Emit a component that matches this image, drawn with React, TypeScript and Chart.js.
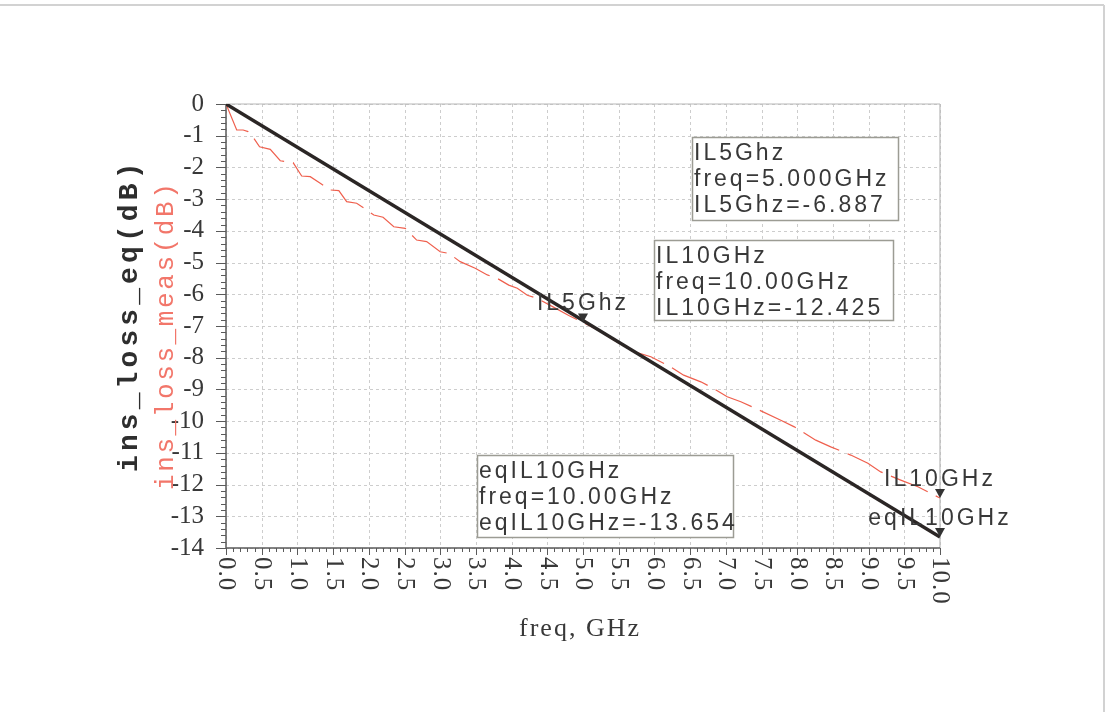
import React, { useEffect, useRef } from "react";
import { Chart, registerables } from "chart.js";

Chart.register(...registerables);

// Measured insertion loss (red, dashed) sampled along frequency
const measFreqGHz = [
  0, 0.15, 0.24, 0.31, 0.36, 0.47, 0.62, 0.76, 0.94, 1.06, 1.18, 1.32, 1.46, 1.58,
  1.69, 1.83, 1.97, 2.07, 2.2, 2.35, 2.51, 2.67, 2.81, 3.0, 3.12, 3.28, 3.49, 3.66,
  3.8, 3.96, 4.08, 4.22, 4.36, 4.6, 4.8, 5.0, 5.2, 5.43, 5.71, 5.95, 6.23, 6.41,
  6.65, 6.83, 7.02, 7.21, 7.44, 7.77, 7.96, 8.26, 8.47, 8.75, 8.99, 9.17, 9.45,
  9.69, 10.0,
];
const insLossMeas = [
  0, -0.82, -0.82, -0.87, -0.98, -1.35, -1.43, -1.79, -1.85, -2.27, -2.29, -2.5,
  -2.71, -2.73, -3.08, -3.13, -3.34, -3.5, -3.57, -3.87, -3.92, -4.29, -4.34, -4.66,
  -4.71, -4.97, -5.18, -5.39, -5.5, -5.71, -5.81, -6.03, -6.13, -6.42, -6.67, -6.887,
  -7.12, -7.44, -7.81, -7.97, -8.29, -8.55, -8.76, -8.97, -9.23, -9.39, -9.62, -9.97,
  -10.18, -10.6, -10.81, -11.07, -11.33, -11.6, -11.86, -12.07, -12.425,
];

// Equation-model insertion loss (black, solid)
const eqFreqGHz = [0, 10];
const insLossEq = [0, -13.654];

// Axis ticks
const xTickLabels = [
  "0.0", "0.5", "1.0", "1.5", "2.0", "2.5", "3.0", "3.5", "4.0", "4.5",
  "5.0", "5.5", "6.0", "6.5", "7.0", "7.5", "8.0", "8.5", "9.0", "9.5", "10.0",
];
const yMin = -14;
const yMax = 0;

// Markers
const markerNames = ["IL5Ghz", "IL10GHz", "eqIL10GHz"];
const markerFreq = [5, 10, 10];
const markerValue = [-6.887, -12.425, -13.654];

// Readout boxes: [marker index, left, top, width, height]
const readoutBoxes: number[][] = [
  [0, 692, 137, 206, 83],
  [1, 654, 240, 239, 80],
  [2, 477, 455, 256, 82],
];

const TEXT = "#383838";
const SANS = "'Liberation Sans', Arial, sans-serif";
const SERIF = "'Liberation Serif', 'Times New Roman', serif";
const MONO = "'Liberation Mono', 'Courier New', monospace";

function line(ctx: CanvasRenderingContext2D, x1: number, y1: number, x2: number, y2: number) {
  ctx.beginPath();
  ctx.moveTo(x1, y1);
  ctx.lineTo(x2, y2);
  ctx.stroke();
}

const decorPlugin = {
  id: "decor",
  beforeDatasetsDraw(chart: any) {
    const { ctx, chartArea: a, scales } = chart;
    const x = scales.x;
    const y = scales.y;
    ctx.save();
    // dashed grid
    ctx.strokeStyle = "#cdcdcd";
    ctx.lineWidth = 1;
    ctx.setLineDash([3, 3]);
    xTickLabels.forEach((l) => {
      const px = Math.round(x.getPixelForValue(parseFloat(l))) + 0.5;
      line(ctx, px, a.top, px, a.bottom);
    });
    for (let v = yMax; v >= yMin; v -= 1) {
      const py = Math.round(y.getPixelForValue(v)) + 0.5;
      line(ctx, a.left, py, a.right, py);
    }
    ctx.setLineDash([]);
    // frame top / right
    ctx.strokeStyle = "#b8b8b8";
    ctx.lineWidth = 1.2;
    line(ctx, a.left, a.top, a.right, a.top);
    line(ctx, a.right, a.top, a.right, a.bottom);
    // axes
    ctx.strokeStyle = "#5a5a5a";
    ctx.lineWidth = 1.5;
    line(ctx, a.left, a.top, a.left, a.bottom);
    line(ctx, a.left, a.bottom, a.right, a.bottom);
    // x ticks
    ctx.lineWidth = 1;
    for (let i = 0; i <= 100; i++) {
      const v = x.min + ((x.max - x.min) * i) / 100;
      const px = Math.round(x.getPixelForValue(v)) + 0.5;
      const len = i % 5 === 0 ? 7 : 4;
      line(ctx, px, a.bottom, px, a.bottom + len);
    }
    // y ticks
    for (let i = 0; i <= 70; i++) {
      const v = yMax - ((yMax - yMin) * i) / 70;
      const py = Math.round(y.getPixelForValue(v)) + 0.5;
      const len = i % 5 === 0 ? 10 : 5;
      line(ctx, a.left - len, py, a.left, py);
    }
    ctx.restore();
  },
  afterDatasetsDraw(chart: any) {
    const { ctx, chartArea: a, scales } = chart;
    const x = scales.x;
    const y = scales.y;
    ctx.save();

    // x tick labels, rotated clockwise
    ctx.fillStyle = TEXT;
    ctx.font = `25px ${SERIF}`;
    (ctx as any).letterSpacing = "1px";
    ctx.textAlign = "left";
    ctx.textBaseline = "middle";
    xTickLabels.forEach((l) => {
      const px = x.getPixelForValue(parseFloat(l));
      ctx.save();
      ctx.translate(px, a.bottom + 9);
      ctx.rotate(Math.PI / 2);
      ctx.fillText(l, 0, 0);
      ctx.restore();
    });

    // x title
    ctx.font = `26px ${SERIF}`;
    (ctx as any).letterSpacing = "2px";
    ctx.textAlign = "center";
    ctx.textBaseline = "alphabetic";
    ctx.fillText("freq, GHz", (a.left + a.right) / 2 - 3, 636);

    // y titles, rotated counter-clockwise
    ctx.textAlign = "left";
    ctx.save();
    ctx.translate(137, 472);
    ctx.rotate(-Math.PI / 2);
    ctx.font = `bold 28px ${MONO}`;
    (ctx as any).letterSpacing = "4.1px";
    ctx.fillStyle = "#2e2e2e";
    ctx.fillText("ins_loss_eq(dB)", 0, 0);
    ctx.restore();
    ctx.save();
    ctx.translate(173, 490);
    ctx.rotate(-Math.PI / 2);
    ctx.font = `26px ${MONO}`;
    (ctx as any).letterSpacing = "2.6px";
    ctx.fillStyle = "#f2766a";
    ctx.fillText("ins_loss_meas(dB)", 0, 0);
    ctx.restore();

    // markers
    ctx.font = `23px ${SANS}`;
    (ctx as any).letterSpacing = "3px";
    markerNames.forEach((name, i) => {
      const px = x.getPixelForValue(markerFreq[i]);
      const py = y.getPixelForValue(markerValue[i]);
      ctx.fillStyle = "#333";
      ctx.beginPath();
      ctx.moveTo(px, py);
      ctx.lineTo(px - 5, py - 9);
      ctx.lineTo(px + 5, py - 9);
      ctx.closePath();
      ctx.fill();
      ctx.fillStyle = TEXT;
      ctx.textAlign = "center";
      ctx.fillText(name, px, py - 12);
    });

    // readout boxes
    ctx.textAlign = "left";
    readoutBoxes.forEach(([mi, bx, by, bw, bh]) => {
      ctx.fillStyle = "#ffffff";
      ctx.fillRect(bx, by, bw, bh);
      ctx.strokeStyle = "#9c9c94";
      ctx.lineWidth = 1.5;
      ctx.strokeRect(bx + 0.5, by + 0.5, bw, bh);
      const lines = [
        markerNames[mi],
        `freq=${markerFreq[mi].toPrecision(4)}GHz`,
        `${markerNames[mi]}=${markerValue[mi].toFixed(3)}`,
      ];
      ctx.fillStyle = TEXT;
      lines.forEach((t, k) => ctx.fillText(t, bx + 2, by + 23 + k * 26));
    });

    // page edge lines
    (ctx as any).letterSpacing = "0px";
    ctx.strokeStyle = "#d2d2d2";
    ctx.lineWidth = 2;
    line(ctx, 0, 5, 1104, 5);
    line(ctx, 1104, 5, 1104, 712);
    ctx.restore();
  },
};

export default function App() {
  const ref = useRef<HTMLCanvasElement | null>(null);

  useEffect(() => {
    if (!ref.current) return;
    const chart = new Chart(ref.current, {
      type: "line",
      data: {
        datasets: [
          {
            label: "ins_loss_eq",
            data: eqFreqGHz.map((f, i) => ({ x: f, y: insLossEq[i] })),
            borderColor: "#2b2625",
            borderWidth: 3.5,
            pointRadius: 0,
            tension: 0,
          },
          {
            label: "ins_loss_meas",
            data: measFreqGHz.map((f, i) => ({ x: f, y: insLossMeas[i] })),
            borderColor: "#ef5f4d",
            borderWidth: 1.2,
            borderDash: [40, 9],
            pointRadius: 0,
            tension: 0,
          },
        ],
      },
      options: {
        animation: false,
        responsive: false,
        devicePixelRatio: 1,
        layout: { padding: { top: 104, right: 169, left: 0, bottom: 0 } },
        plugins: { legend: { display: false }, tooltip: { enabled: false } },
        scales: {
          x: {
            type: "linear",
            min: 0,
            max: 10,
            ticks: { display: false, stepSize: 0.5 },
            grid: { display: false },
            border: { display: false },
            afterFit: (s: any) => {
              s.height = 164;
            },
          },
          y: {
            type: "linear",
            min: yMin,
            max: yMax,
            ticks: {
              stepSize: 1,
              autoSkip: false,
              padding: 14,
              color: TEXT,
              font: { family: SERIF, size: 25 },
              callback: (v: any) => String(v),
            },
            grid: { display: false },
            border: { display: false },
            afterFit: (s: any) => {
              s.width = 226;
            },
          },
        },
      },
      plugins: [decorPlugin],
    });
    return () => chart.destroy();
  }, []);

  return (
    <div style={{ position: "fixed", left: 0, top: 0, width: 1109, height: 712, background: "#fff" }}>
      <canvas ref={ref} width={1109} height={712} style={{ width: 1109, height: 712, display: "block" }} />
    </div>
  );
}
